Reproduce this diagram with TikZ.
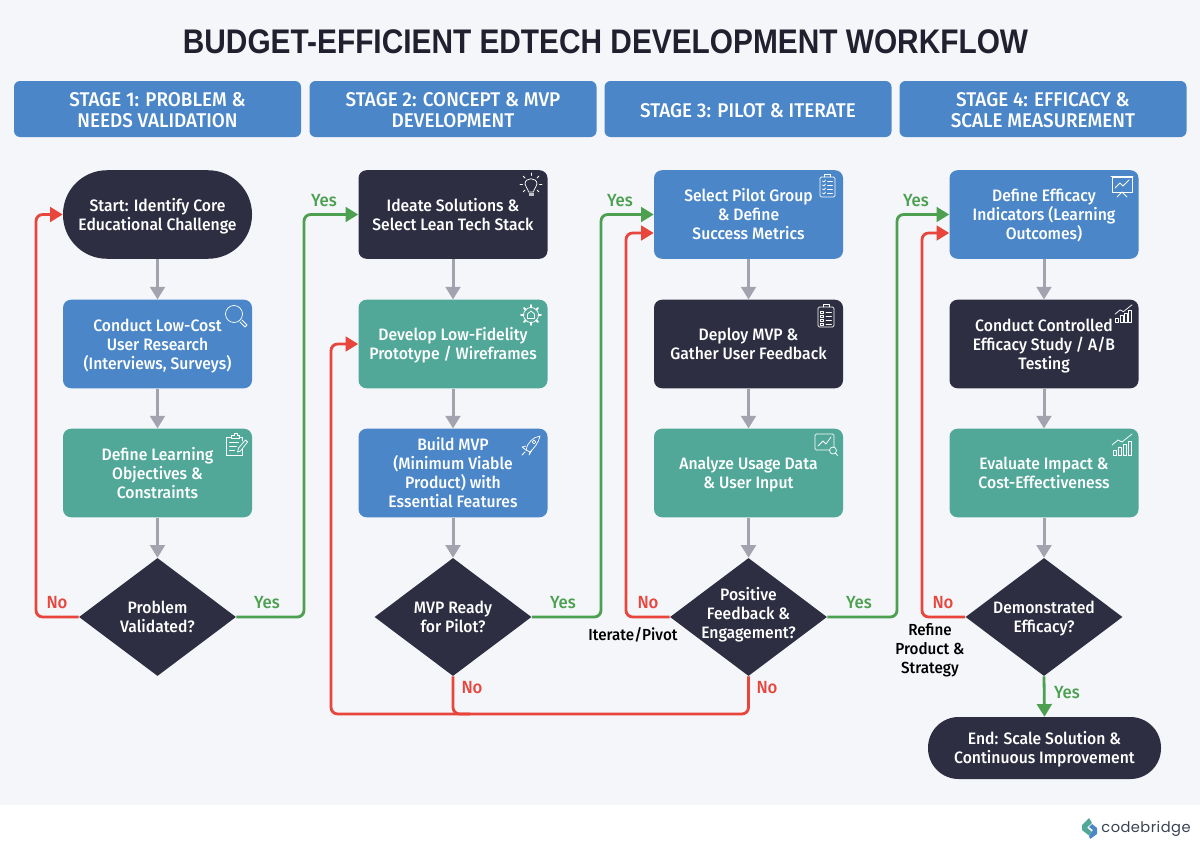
\documentclass[tikz,border=0pt]{standalone}
\usepackage{fontspec}
\setmainfont{Fira Sans}[BoldFont={Fira Sans Medium},FakeStretch=0.95]
\newfontfamily\titlefont{Liberation Sans}[FakeStretch=0.874]
\newfontfamily\brandfont{Poppins}
\usetikzlibrary{arrows.meta,shapes.geometric,calc}
\newcommand{\boxlines}[2][14.5pt]{\rule{0pt}{#1}#2\rule[-5pt]{0pt}{5pt}}
\definecolor{pagebg}{HTML}{F4F6FA}
\definecolor{inkdark}{HTML}{2E2E42}
\definecolor{titleink}{HTML}{20202F}
\definecolor{stageblue}{HTML}{4A86C8}
\definecolor{stepteal}{HTML}{52A898}
\definecolor{flowgray}{HTML}{A3A3AF}
\definecolor{flowred}{HTML}{E8453C}
\definecolor{flowgreen}{HTML}{4CA050}
\definecolor{logodark}{HTML}{3A4250}
\tikzset{
  boxtext/.style={text=white,align=center,font=\bfseries\fontsize{12.4}{14.25}\selectfont},
  stagebox/.style={fill=stageblue,rounded corners=4.5pt,minimum width=215.25pt,minimum height=42pt,inner sep=0,
    text=white,align=center,font=\bfseries\fontsize{14.9}{15.75}\selectfont},
  stepbox/.style={boxtext,rounded corners=6pt,minimum width=141.75pt,minimum height=66.4pt,inner sep=0},
  endbox/.style={boxtext,fill=inkdark,rounded corners=23pt,inner sep=0},
  decision/.style={diamond,fill=inkdark,minimum width=117.75pt,minimum height=88.5pt,inner sep=0},
  flow/.style={draw=flowgray,line width=2.25pt,-{Triangle[length=9.5pt,width=11pt]}},
  nopath/.style={draw=flowred,line width=2.1pt,rounded corners=5pt,-{Triangle[length=9.5pt,width=11pt]}},
  yespath/.style={draw=flowgreen,line width=2.1pt,rounded corners=5pt,-{Triangle[length=9.5pt,width=11pt]}},
  nolabel/.style={text=flowred,font=\bfseries\fontsize{13.2}{15}\selectfont,inner sep=0},
  yeslabel/.style={text=flowgreen,font=\bfseries\fontsize{13.2}{15}\selectfont,inner sep=0},
  sidelabel/.style={text=black,align=center,font=\bfseries\fontsize{12}{14.25}\selectfont,inner sep=0},
  icon/.style={draw=white,line width=0.55pt,line cap=round,line join=round},
  pics/search/.style={code={
    \draw[icon] (-1,-1) circle (8.5);
    \draw[icon] (5,7) -- (10,12) -- (12,10) -- (7,5);}},
  pics/notepad/.style={code={
    \draw[icon] (4,-7) -- (7,-7) -- (7,-3) (7,5) -- (7,11) -- (-9,11) -- (-9,-7) -- (-4,-7);
    \draw[icon] (-4,-6) -- (-4,-9) -- (-1.5,-9) -- (-1.5,-11) -- (1.5,-11) -- (1.5,-9) -- (4,-9) -- (4,-6) -- cycle;
    \draw[icon] (-6,-2) -- (3,-2) (-6,2) -- (1,2) (-6,6) -- (-1,6);
    \draw[icon] (2,8) -- (3,4) -- (10,-4) -- (12,-2) -- (5,7) -- cycle;}},
  pics/bulb/.style={code={
    \draw[icon] (-2.5,4) .. controls (-3,0) and (-6,-1) .. (-6,-4) .. controls (-6,-11) and (6,-11) .. (6,-4) .. controls (6,-1) and (3,0) .. (2.5,4) -- cycle;
    \fill[white!70!inkdark] (-2.5,4.5) rectangle (2.5,8);
    \foreach \a in {0,45,135,180,225,270,315} {\draw[icon] ($(0,-4)+(\a:8.5)$) -- ($(0,-4)+(\a:11)$);}}},
  pics/cog/.style={code={
    \draw[icon] (0,0) circle (7.5);
    \draw[icon] (-3.5,3.5) -- (-3.5,-1) -- (0,-4) -- (3.5,-1) -- (3.5,3.5) -- cycle;
    \foreach \a in {0,45,...,315} {\draw[icon,line width=1.4pt] (\a:7.5) -- (\a:10);}}},
  pics/rocket/.style={code={
    \draw[icon] (-5,5) .. controls (-4,-2) and (2,-8) .. (9,-9) .. controls (8,-2) and (2,4) .. (-1,7) -- cycle;
    \draw[icon] (-5,1) -- (-9,2) -- (-5,5) (-1,7) -- (-2,10) -- (1,5);
    \draw[icon] (3,-3) circle (1.8); \draw[icon] (-6,7) -- (-9,10);}},
  pics/checklist/.style={code={
    \draw[icon,rounded corners=1pt] (-7.5,-9) rectangle (7.5,11); \draw[icon] (-3,-9) -- (-3,-11.5) -- (3,-11.5) -- (3,-9);
    \foreach \y in {-5,-1,3,7} {\draw[icon] (-5,\y) -- (-3.5,{\y+1}) -- (-2,{\y-1}); \draw[icon] (0,\y) -- (5,\y);}}},
  pics/listing/.style={code={
    \draw[icon,rounded corners=1pt] (-8,-9) rectangle (8,11); \draw[icon] (-3,-9) -- (-3,-12) -- (3,-12) -- (3,-9);
    \foreach \y in {-4,0,4,8} {\draw[icon] (-5.5,{\y-1}) rectangle (-2.5,{\y+1}); \draw[icon] (0,\y) -- (5.5,\y);}}},
  pics/usage/.style={code={
    \draw[icon,rounded corners=1pt] (-12,-11) rectangle (7,5); \draw[icon] (-9,1) -- (-4,-4) -- (-1,-1) -- (4,-8);
    \draw[icon,fill=stepteal] (6,5.5) circle (3.5); \draw[icon] (8.5,8) -- (10.5,10.5);}},
  pics/screen/.style={code={
    \draw[icon] (-10,-9) rectangle (10,6); \draw[icon] (-11,-10) -- (11,-10); \draw[icon] (-7,2) -- (-2,-3) -- (1,0) -- (7,-6);
    \draw[icon] (0,6) -- (-5,11) (0,6) -- (5,11);}},
  pics/bars/.style={code={
    \foreach \x/\h in {-9/5,-4/8,1/11,6/14} {\draw[icon] (\x,9) rectangle ({\x+3.5},{9-\h});}
    \draw[icon] (-10,-1) -- (-4,-6) -- (0,-4) -- (10,-12);}}
}
\begin{document}
\begin{tikzpicture}[x=0.75pt,y=-0.75pt]
  \useasboundingbox (0,0) rectangle (1200,853);
  \fill[pagebg] (0,0) rectangle (1200,805);
  \node[font=\titlefont\bfseries\fontsize{25.6}{30}\selectfont,text=titleink] (title) at (605.5,41.5) {BUDGET-EFFICIENT EDTECH DEVELOPMENT WORKFLOW};
  \node[stagebox] (stage1) at (157.5,109) {\boxlines[17.5pt]{STAGE 1: PROBLEM \&\\NEEDS VALIDATION}};
  \node[stagebox] (stage2) at (453,109) {\boxlines[17.5pt]{STAGE 2: CONCEPT \& MVP\\DEVELOPMENT}};
  \node[stagebox] (stage3) at (748,109) {\boxlines[17.5pt]{STAGE 3: PILOT \& ITERATE}};
  \node[stagebox] (stage4) at (1043,109) {\boxlines[17.5pt]{STAGE 4: EFFICACY \&\\SCALE MEASUREMENT}};
  % colonna 1
  \node[endbox,minimum width=141.75pt,minimum height=66.4pt,rounded corners=33pt] (start) at (157.5,214.5) {\boxlines{Start: Identify Core\\Educational Challenge}};
  \node[stepbox,fill=stageblue] (research) at (157.5,344) {\boxlines{Conduct Low-Cost\\User Research\\(Interviews, Surveys)}};
  \node[stepbox,fill=stepteal] (objectives) at (157.5,473) {\boxlines{Define Learning\\Objectives \&\\Constraints}};
  \node[decision,label={[boxtext]center:\boxlines{Problem\\Validated?}}] (validated) at (157.5,617) {};
  % colonna 2
  \node[stepbox,fill=inkdark] (ideate) at (453,214.5) {\boxlines{Ideate Solutions \&\\Select Lean Tech Stack}};
  \node[stepbox,fill=stepteal] (prototype) at (453,344) {\boxlines{Develop Low-Fidelity\\Prototype / Wireframes}};
  \node[stepbox,fill=stageblue] (mvp) at (453,473) {\boxlines{Build MVP\\(Minimum Viable\\Product) with\\Essential Features}};
  \node[decision,label={[boxtext]center:\boxlines{MVP Ready\\for Pilot?}}] (ready) at (453,617) {};
  % colonna 3
  \node[stepbox,fill=stageblue] (pilot) at (748.5,214.5) {\boxlines{Select Pilot Group\\\& Define\\Success Metrics}};
  \node[stepbox,fill=inkdark] (deploy) at (748.5,344) {\boxlines{Deploy MVP \&\\Gather User Feedback}};
  \node[stepbox,fill=stepteal] (usage) at (748.5,473) {\boxlines{Analyze Usage Data\\\& User Input}};
  \node[decision,label={[boxtext,yshift=3pt]center:\boxlines{Positive\\Feedback \&\\Engagement?}}] (positive) at (748.5,617) {};
  % colonna 4
  \node[stepbox,fill=stageblue] (indicators) at (1044,214.5) {\boxlines{Define Efficacy\\Indicators (Learning\\Outcomes)}};
  \node[stepbox,fill=inkdark] (study) at (1044,344) {\boxlines{Conduct Controlled\\Efficacy Study / A/B\\Testing}};
  \node[stepbox,fill=stepteal] (impact) at (1044,473) {\boxlines{Evaluate Impact \&\\Cost-Effectiveness}};
  \node[decision,label={[boxtext]center:\boxlines{Demonstrated\\Efficacy?}}] (efficacy) at (1044,617) {};
  \node[endbox,minimum width=174.75pt,minimum height=46.5pt,rounded corners=23pt] (finish) at (1044.5,748) {\boxlines{End: Scale Solution \&\\Continuous Improvement}};
  % icone
  \path (235,315) pic {search};
  \path (235.5,444) pic {notepad};
  \path (531,188) pic {bulb};
  \path (531,315) pic {cog};
  \path (531,445) pic {rocket};
  \path (827.5,186) pic {checklist};
  \path (826,316) pic {listing};
  \path (827,445) pic {usage};
  \path (1122,186) pic {screen};
  \path (1123.5,315) pic[scale=0.85] {bars};
  \path (1122,446) pic {bars};
  % frecce grigie
  \foreach \a/\b in {start/research,research/objectives,objectives/validated,
    ideate/prototype,prototype/mvp,mvp/ready,pilot/deploy,deploy/usage,usage/positive,
    indicators/study,study/impact,impact/efficacy}
    \draw[flow] (\a) -- (\b);
  % rami si e no
  \coordinate (pilotno) at (pilot.west |- 0,233);
  \coordinate (indicatorsno) at (indicators.west |- 0,233);
  \coordinate (merge) at (453,714);
  \draw[nopath] (validated.west) -- (36,617) -- (36,214.5) -- (start.west);
  \draw[yespath] (validated.east) -- (304,617) -- (304,214.5) -- (ideate.west);
  \draw[yespath] (ready.east) -- (601,617) -- (601,214.5) -- (pilot.west);
  \draw[nopath] (positive.west) -- (626,617) -- (626,233) -- (pilotno);
  \draw[yespath] (positive.east) -- (897,617) -- (897,214.5) -- (indicators.west);
  \draw[nopath] (efficacy.west) -- (922,617) -- (922,233) -- (indicatorsno);
  \draw[nopath] (positive.south) -- (748.5,714) -- (331,714) -- (331,344) -- (prototype.west);
  \draw[draw=flowred,line width=2.1pt,rounded corners=5pt] (ready.south) -- (merge) -- (470,714);
  \draw[yespath] (efficacy.south) -- (finish.north);
  % etichette
  \node[nolabel] (no1) at (57,603) {No};
  \node[yeslabel] (yes1) at (267,603) {Yes};
  \node[yeslabel] (yes2) at (324,201) {Yes};
  \node[yeslabel] (yes3) at (563,603) {Yes};
  \node[nolabel] (no2) at (472,688) {No};
  \node[yeslabel] (yes4) at (620,201) {Yes};
  \node[nolabel] (no3) at (648,603) {No};
  \node[nolabel] (no4) at (767,688) {No};
  \node[sidelabel] (iterate) at (633,635) {Iterate/Pivot};
  \node[yeslabel] (yes5) at (859,603) {Yes};
  \node[yeslabel] (yes6) at (916,201) {Yes};
  \node[nolabel] (no5) at (943,603) {No};
  \node[sidelabel] (refine) at (930,650) {Refine\\Product \&\\Strategy};
  \node[yeslabel] (yes7) at (1067,693) {Yes};
  % logo
  \fill[stepteal] (1089,818) -- (1082,825) -- (1082,830) -- (1089,835.5) -- (1092,832) -- (1087,827.5) -- (1092,823) -- cycle;
  \fill[stageblue] (1090,839) -- (1097,834) -- (1097,828) -- (1092,824) -- (1089,827) -- (1093,830) -- (1089,836) -- cycle;
  \node[text=logodark,font=\brandfont\fontsize{11}{14}\selectfont\addfontfeature{LetterSpace=3},inner sep=0] (brand) at (1146,829) {codebridge};
\end{tikzpicture}
\end{document}
